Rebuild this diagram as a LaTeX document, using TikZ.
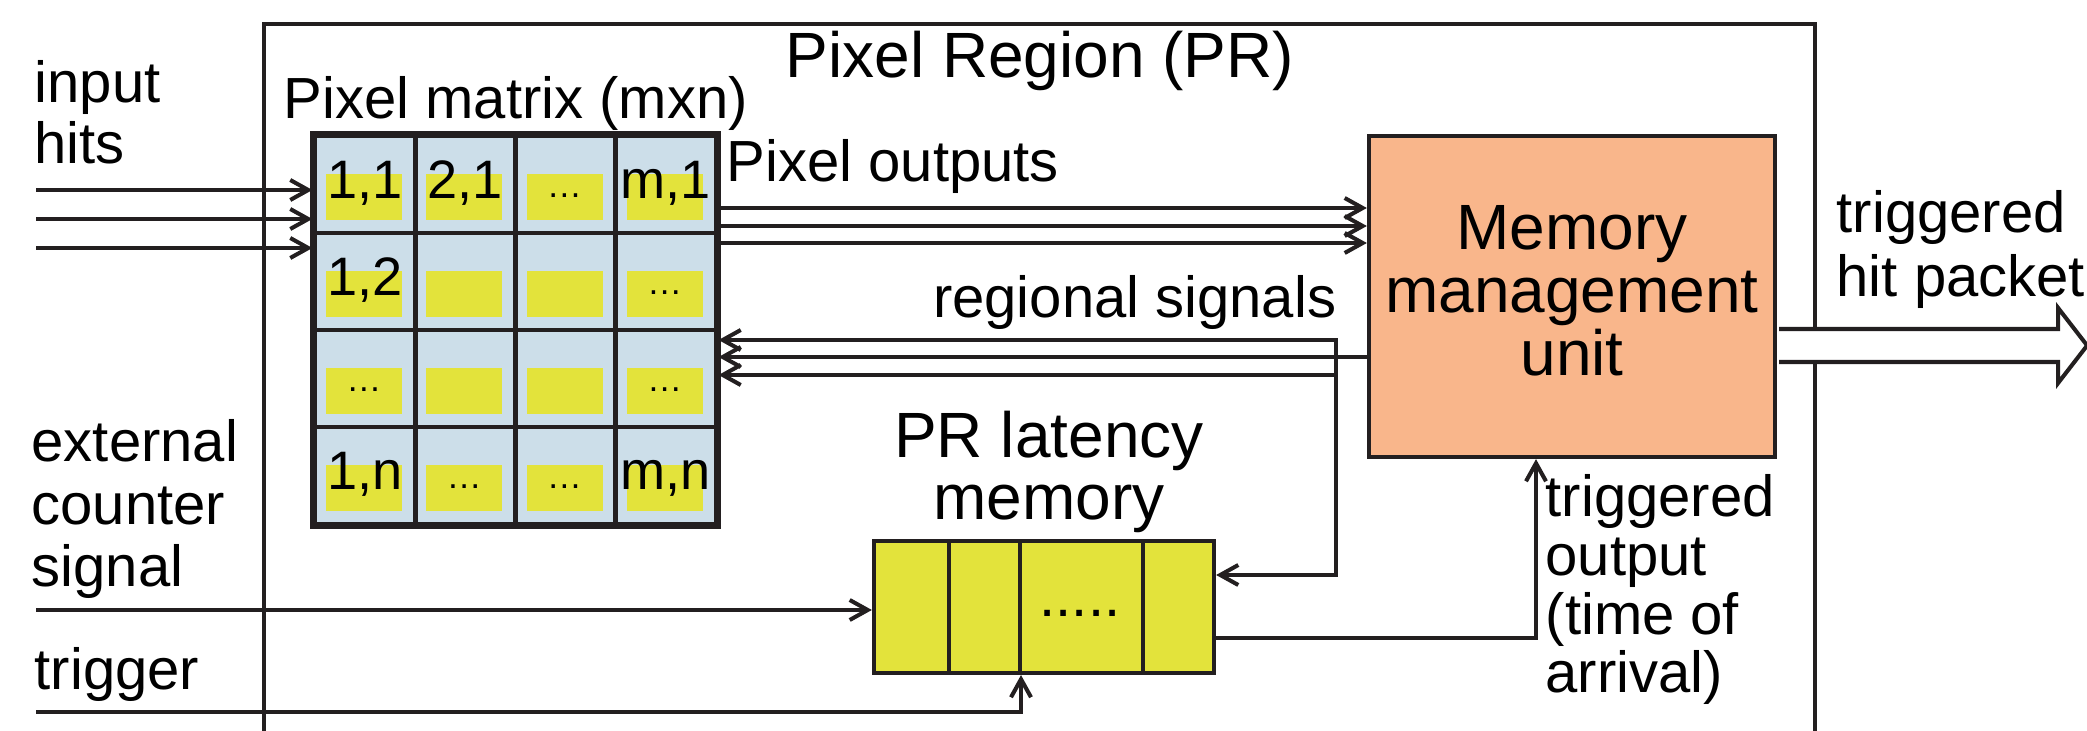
\documentclass[tikz,border=0pt]{standalone}
\usepackage{fontspec}
\setmainfont{Liberation Sans}
\usetikzlibrary{arrows.meta,calc}
\definecolor{ink}{HTML}{231F20}
\definecolor{cellblue}{HTML}{CCDEE9}
\definecolor{cellyel}{HTML}{E3E33B}
\definecolor{mmuor}{HTML}{F9B68B}
\begin{document}
\begin{tikzpicture}[x=0.01cm,y=-0.01cm,
  ln/.style={draw=ink,line width=1.15pt},
  grid/.style={draw=ink,line width=1.4pt},
  tip/.tip={Straight Barb[length=0.18cm,width=0.2cm]},
  arr/.style={ln,-tip},
  txt/.style={inner sep=0pt,text=black},
  fa/.style={font=\fontsize{16.5pt}{17.6pt}\selectfont},
  fb/.style={font=\fontsize{18.2pt}{17.9pt}\selectfont},
  fc/.style={font=\fontsize{15.4pt}{16pt}\selectfont},
  fd/.style={font=\fontsize{10pt}{10pt}\selectfont},
  fext/.style={font=\fontsize{16.5pt}{17.9pt}\selectfont},
  fout/.style={font=\fontsize{16.5pt}{16.7pt}\selectfont},
  fhit/.style={font=\fontsize{16.5pt}{18.2pt}\selectfont},
]
\useasboundingbox (0,0) rectangle (2087,731);

% Pixel Region box
\draw[ln,line width=1pt] (264,731) -- (264,24) -- (1815,24) -- (1815,731);
\node[txt,fb,anchor=base] (title) at (1040,78) {Pixel Region (PR)};

% Pixel matrix
\node[grid,fill=cellblue,minimum width=4.01cm,minimum height=3.88cm,inner sep=0pt] (pm) at (515.5,330) {};
\foreach \i in {0,...,3} \foreach \j in {0,...,3}
  \fill[cellyel] ({315+100.25*\i+11},{136+97*\j+38}) rectangle ++(76,46);
\foreach \i in {1,2,3} {
  \draw[grid] ({315+100.25*\i},136) -- ++(0,388);
  \draw[grid] (315,{136+97*\i}) -- ++(401,0);
}
\draw[grid] (pm.north west) rectangle (pm.south east);
\foreach \i/\j/\t in {0/0/{1,1},1/0/{2,1},3/0/{m,1},0/1/{1,2},0/3/{1,n},3/3/{m,n}}
  \node[txt,fc,anchor=base] (c\i\j) at ({315+100.25*\i+50},{136+97*\j+63}) {\t};
\foreach \i/\j in {2/0,3/1,0/2,3/2,1/3,2/3}
  \node[txt,fd,anchor=base] (d\i\j) at ({315+100.25*\i+49},{136+97*\j+62}) {…};
\node[txt,fa,anchor=base west] (pmlbl) at (283,119) {Pixel matrix (mxn)};

% Memory management unit
\node[ln,fill=mmuor,minimum width=4.06cm,minimum height=3.21cm,inner sep=0pt,
      align=center,fb,text depth=0.12cm] (mmu) at (1572,296.5) {Memory\\management\\unit};

% PR latency memory
\node[ln,fill=cellyel,minimum width=3.40cm,minimum height=1.32cm,inner sep=0pt] (lat) at (1044,607) {};
\foreach \x in {949,1020,1143} \draw[ln] (\x,541) -- (\x,673);
\node[txt,fa,anchor=base] (ldots) at (1080,617) {.....};
\node[txt,fb,align=center,anchor=base] (latlbl) at (1049,520) {PR latency\\memory};

% labels
\node[txt,fa,align=left,anchor=base west] (inhits) at (34,164) {input\\hits};
\node[txt,fa,anchor=base west] (polbl) at (726,182) {Pixel outputs};
\node[txt,fa,anchor=base east] (rslbl) at (1337,318) {regional signals};
\node[txt,fext,align=left,anchor=base west] (extlbl) at (31,587) {external\\counter\\signal};
\node[txt,fa,anchor=base west] (trglbl) at (34,690) {trigger};
\node[txt,fout,align=left,anchor=base west] (tolbl) at (1545,693) {triggered\\output\\(time of\\arrival)};
\node[txt,fhit,align=left,anchor=base west] (hplbl) at (1836,297) {triggered\\hit packet};

% input hits
\coordinate (ih1) at (36,190);
\coordinate (ih2) at (36,219);
\coordinate (ih3) at (36,248);
\foreach \c in {ih1,ih2,ih3} \draw[arr] (\c) -- (\c -| pm.west);

% pixel outputs
\coordinate (po1) at (0,208);
\coordinate (po2) at (0,226);
\coordinate (po3) at (0,243);
\foreach \c in {po1,po2,po3} \draw[arr] (\c -| pm.east) -- (\c -| mmu.west);

% regional signals
\coordinate (rv1) at (1336,340);
\coordinate (rs2) at (0,357);
\coordinate (rv3) at (1336,375);
\coordinate (lin) at (0,575);
\draw[ln,tip-tip] (rv1 -| pm.east) -- (rv1) |- (lin -| lat.east);
\draw[arr] (rs2 -| mmu.west) -- (rs2 -| pm.east);
\draw[arr] (rv3) -- (rv3 -| pm.east);

% external counter signal and trigger
\coordinate (ext) at (36,610);
\draw[arr] (ext) -- (ext -| lat.west);
\coordinate (trg) at (36,712);
\coordinate (trgx) at (1021,0);
\draw[arr] (trg) -| (trgx |- lat.south);

% triggered output
\coordinate (tout) at (0,638);
\coordinate (toutx) at (1536,0);
\draw[arr] (tout -| lat.east) -| (toutx |- mmu.south);

% triggered hit packet (block arrow)
\coordinate (bo) at ($(mmu.east)+(0,49)$);
\draw[ln,fill=white,line join=miter] ($(bo)+(2,-16.5)$) -- ++(279,0) -- ++(0,-21)
  -- ++(29,37.5) -- ++(-29,37.5) -- ++(0,-21) -- ++(-279,0);
\end{tikzpicture}
\end{document}
